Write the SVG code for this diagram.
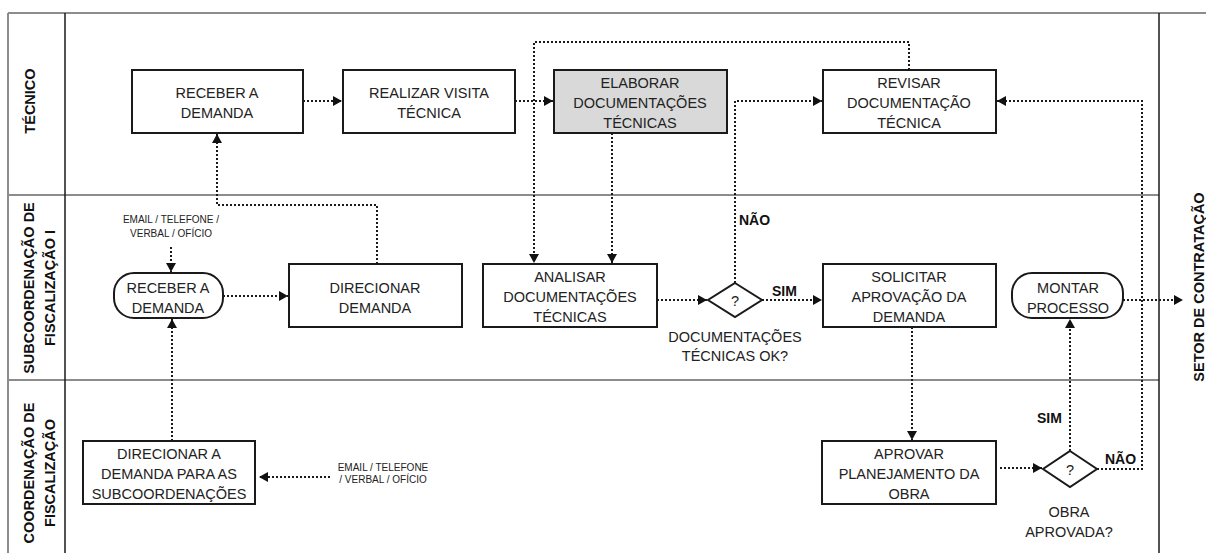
<svg xmlns="http://www.w3.org/2000/svg" width="1206" height="553" viewBox="0 0 1206 553">
<style>
.box{fill:#fff;stroke:#1a1a1a;stroke-width:2}
.grey{fill:#d9d9d9}
.t{font-family:"Liberation Sans",Arial,sans-serif;font-size:14.5px;fill:#222;text-anchor:middle}
.b{font-family:"Liberation Sans",Arial,sans-serif;font-size:14px;font-weight:bold;fill:#111}
.lane{font-family:"Liberation Sans",Arial,sans-serif;font-size:14.5px;font-weight:bold;fill:#111;text-anchor:middle}
.s{font-family:"Liberation Sans",Arial,sans-serif;font-size:10px;fill:#222;text-anchor:middle}
.c{fill:none;stroke:#1a1a1a;stroke-width:2;stroke-dasharray:2 2}
.sep{stroke:#8c8c8c;stroke-width:2;fill:none}
.div{stroke:#1a1a1a;stroke-width:1.5;fill:none}
</style>
<defs>
<marker id="ah" markerUnits="userSpaceOnUse" markerWidth="10" markerHeight="12" refX="9" refY="5" orient="auto">
<path d="M0,0 L9,5 L0,10 z" fill="#111"/>
</marker>
</defs>
<rect width="1206" height="553" fill="#fff"/>
<g id="lanes">
<line class="sep" x1="8" y1="13" x2="1206" y2="13"/>
<line class="sep" x1="8" y1="13" x2="8" y2="553"/>
<line class="sep" x1="8" y1="195" x2="1159" y2="195"/>
<line class="sep" x1="8" y1="380" x2="1159" y2="380"/>
<line class="div" x1="65" y1="13" x2="65" y2="553"/>
<line class="div" x1="1159" y1="13" x2="1159" y2="553"/>
<text class="lane" transform="translate(35,101) rotate(-90)">TÉCNICO</text>
<text class="lane" transform="translate(34,288) rotate(-90)">SUBCOORDENAÇÃO DE</text>
<text class="lane" transform="translate(55,288) rotate(-90)">FISCALIZAÇÃO I</text>
<text class="lane" transform="translate(34,473) rotate(-90)">COORDENAÇÃO DE</text>
<text class="lane" transform="translate(55,473) rotate(-90)">FISCALIZAÇÃO</text>
<text class="lane" transform="translate(1204,287) rotate(-90)">SETOR DE CONTRATAÇÃO</text>
</g>
<g id="connectors">
<path class="c" d="M303,101 H342" marker-end="url(#ah)"/>
<path class="c" d="M515,101 H553" marker-end="url(#ah)"/>
<path class="c" d="M909,70 V42 H534 V263" marker-end="url(#ah)"/>
<path class="c" d="M612,133 V263" marker-end="url(#ah)"/>
<path class="c" d="M735,283 V101 H822" marker-end="url(#ah)"/>
<path class="c" d="M657,300 H707" marker-end="url(#ah)"/>
<path class="c" d="M762,300 H822" marker-end="url(#ah)"/>
<path class="c" d="M912,327 V440" marker-end="url(#ah)"/>
<path class="c" d="M1000,468 H1042" marker-end="url(#ah)"/>
<path class="c" d="M1070,451 V319" marker-end="url(#ah)"/>
<path class="c" d="M1097,469 H1142 V101 H997" marker-end="url(#ah)"/>
<path class="c" d="M1123,300 H1183" marker-end="url(#ah)"/>
<path class="c" d="M377,264 V205 H217 V134" marker-end="url(#ah)"/>
<path class="c" d="M223,296 H288" marker-end="url(#ah)"/>
<path class="c" d="M171,247 V272" marker-end="url(#ah)"/>
<path class="c" d="M172,441 V319" marker-end="url(#ah)"/>
<path class="c" d="M330,477 H259" marker-end="url(#ah)"/>
<text class="b" x="739" y="225">NÃO</text>
<text class="b" x="772" y="296">SIM</text>
<text class="b" x="1037" y="423">SIM</text>
<text class="b" x="1105" y="464">NÃO</text>
<text class="s" x="171" y="223">EMAIL / TELEFONE  /</text>
<text class="s" x="171" y="237">VERBAL / OFÍCIO</text>
<text class="s" x="383" y="471">EMAIL / TELEFONE</text>
<text class="s" x="383" y="483">/ VERBAL  / OFÍCIO</text>
</g>
<g id="n1">
<rect class="box" x="132" y="70" width="171" height="63"/>
<text class="t" x="217" y="98">RECEBER A</text>
<text class="t" x="217" y="118">DEMANDA</text>
</g>
<g id="n2">
<rect class="box" x="343" y="70" width="172" height="63"/>
<text class="t" x="429" y="98">REALIZAR VISITA</text>
<text class="t" x="429" y="118">TÉCNICA</text>
</g>
<g id="n3">
<rect class="box grey" x="554" y="70" width="173" height="63"/>
<text class="t" x="640" y="88">ELABORAR</text>
<text class="t" x="640" y="108">DOCUMENTAÇÕES</text>
<text class="t" x="640" y="128">TÉCNICAS</text>
</g>
<g id="n4">
<rect class="box" x="823" y="70" width="173" height="63"/>
<text class="t" x="909" y="88">REVISAR</text>
<text class="t" x="909" y="108">DOCUMENTAÇÃO</text>
<text class="t" x="909" y="128">TÉCNICA</text>
</g>
<g id="n5">
<rect class="box" x="114" y="273" width="109" height="45" rx="20" ry="20"/>
<text class="t" x="168" y="293">RECEBER A</text>
<text class="t" x="168" y="313">DEMANDA</text>
</g>
<g id="n6">
<rect class="box" x="289" y="264" width="173" height="63"/>
<text class="t" x="375" y="293">DIRECIONAR</text>
<text class="t" x="375" y="313">DEMANDA</text>
</g>
<g id="n7">
<rect class="box" x="483" y="264" width="174" height="63"/>
<text class="t" x="570" y="282">ANALISAR</text>
<text class="t" x="570" y="302">DOCUMENTAÇÕES</text>
<text class="t" x="570" y="322">TÉCNICAS</text>
</g>
<g id="d1">
<polygon class="box" points="735,283 762,300 735,317 708,300"/>
<text class="t" x="735" y="306">?</text>
<text class="t" x="735" y="342">DOCUMENTAÇÕES</text>
<text class="t" x="735" y="361">TÉCNICAS OK?</text>
</g>
<g id="n8">
<rect class="box" x="823" y="264" width="173" height="63"/>
<text class="t" x="909" y="282">SOLICITAR</text>
<text class="t" x="909" y="302">APROVAÇÃO DA</text>
<text class="t" x="909" y="322">DEMANDA</text>
</g>
<g id="n9">
<rect class="box" x="1012" y="273" width="111" height="45" rx="20" ry="20"/>
<text class="t" x="1068" y="293">MONTAR</text>
<text class="t" x="1068" y="313">PROCESSO</text>
</g>
<g id="n10">
<rect class="box" x="83" y="441" width="172" height="63"/>
<text class="t" x="169" y="459">DIRECIONAR A</text>
<text class="t" x="169" y="479">DEMANDA PARA AS</text>
<text class="t" x="169" y="499">SUBCOORDENAÇÕES</text>
</g>
<g id="n11">
<rect class="box" x="822" y="441" width="174" height="63"/>
<text class="t" x="909" y="459">APROVAR</text>
<text class="t" x="909" y="479">PLANEJAMENTO DA</text>
<text class="t" x="909" y="499">OBRA</text>
</g>
<g id="d2">
<polygon class="box" points="1070,451 1097,469 1070,487 1043,469"/>
<text class="t" x="1070" y="475">?</text>
<text class="t" x="1069" y="517">OBRA</text>
<text class="t" x="1069" y="537">APROVADA?</text>
</g>
</svg>
